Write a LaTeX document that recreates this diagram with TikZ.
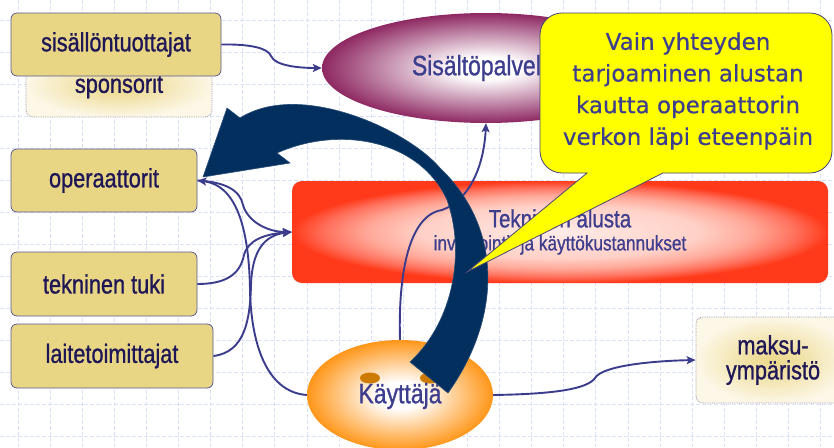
\documentclass[tikz,border=0pt]{standalone}
\usepackage{fontspec}
\usetikzlibrary{arrows.meta,shapes.geometric}

\newfontfamily\narrowsf[FakeStretch=0.82,FakeBold=0.9]{Liberation Sans}
\newfontfamily\roundsf[FakeBold=0.4]{DejaVu Sans}

% palette
\definecolor{tanfill}{RGB}{232,214,132}
\definecolor{tanline}{RGB}{90,90,150}
\definecolor{boxtext}{RGB}{30,22,86}
\definecolor{labeltext}{RGB}{62,62,142}
\definecolor{connc}{RGB}{60,60,140}
\definecolor{gridc}{RGB}{218,226,250}
\definecolor{plumc}{RGB}{142,40,98}
\definecolor{redc}{RGB}{255,58,26}
\definecolor{redhot}{RGB}{255,112,92}
\definecolor{redmid}{RGB}{255,168,152}
\definecolor{redsoft}{RGB}{255,208,198}
\definecolor{redlight}{RGB}{255,236,232}
\definecolor{orangec}{RGB}{255,150,25}
\definecolor{eyec}{RGB}{204,122,0}
\definecolor{creamc}{RGB}{252,247,230}
\definecolor{creamcore}{RGB}{236,216,140}
\definecolor{navyc}{RGB}{3,47,95}
\definecolor{calloutc}{RGB}{255,255,0}
\definecolor{calloutline}{RGB}{70,70,120}
\definecolor{dotline}{RGB}{150,150,172}

% soft centre-to-edge fills (25bp is the edge of the filled path)
\pgfdeclareradialshading{plumglow}{\pgfpoint{0bp}{0bp}}{color(0bp)=(white); color(5bp)=(white); color(25bp)=(plumc); color(50bp)=(plumc)}
\pgfdeclareradialshading{orangeglow}{\pgfpoint{0bp}{0bp}}{color(0bp)=(white); color(6bp)=(white); color(25bp)=(orangec); color(50bp)=(orangec)}
\pgfdeclareradialshading{redglow}{\pgfpoint{0bp}{0bp}}{color(0bp)=(redlight); color(13bp)=(redsoft); color(18bp)=(redmid); color(22bp)=(redhot); color(25bp)=(redc); color(50bp)=(redc)}
\pgfdeclareradialshading{creamglow}{\pgfpoint{0bp}{0bp}}{color(0bp)=(creamcore); color(7bp)=(creamcore!80!creamc); color(25bp)=(creamc); color(50bp)=(creamc)}

\tikzset{
  tanbox/.style={draw=tanline, line width=0.8pt, fill=tanfill, rounded corners=6pt,
    inner sep=0pt, text=boxtext, font=\narrowsf\fontsize{26.5}{26.5}\selectfont},
  palebox/.style={draw=dotline, densely dotted, line width=0.8pt, shading=creamglow,
    rounded corners=7pt, inner sep=0pt, text=boxtext, align=center,
    font=\narrowsf\fontsize{26.5}{25}\selectfont},
  ovalnode/.style={ellipse, inner sep=0pt, text=labeltext,
    font=\narrowsf\fontsize{28}{28}\selectfont},
  eyespot/.style={ellipse, fill=eyec, inner sep=0pt, minimum width=20pt, minimum height=11pt},
  platform/.style={shading=redglow, rounded corners=10pt, inner sep=0pt, text=labeltext,
    align=center, font=\narrowsf\fontsize{21}{23}\selectfont},
  conn/.style={draw=connc, line width=1.9pt, -{Stealth[length=9pt,width=8pt,inset=2pt]}},
  gridline/.style={draw=gridc, line width=0.8pt, dash pattern=on 4pt off 2pt},
  bigarrow/.style={fill=navyc, draw=navyc!85!white, line width=0.6pt},
  callout/.style={fill=calloutc, draw=calloutline, line width=0.8pt}
}

\begin{document}
\begin{tikzpicture}[x=1pt,y=-1pt]
\useasboundingbox (0,0) rectangle (834,447);
\fill[white] (0,0) rectangle (834,447);

% background grid
\foreach \gx in {0,...,25} \draw[gridline] ({18+32.1*\gx},0) -- ({18+32.1*\gx},447);
\foreach \gy in {0,...,13} \draw[gridline] (0,{20.3+32*\gy}) -- (834,{20.3+32*\gy});

% actor boxes
\node[palebox, minimum width=186pt, minimum height=62pt] (spo) at (119,86) {sponsorit};
\node[tanbox, minimum width=210pt, minimum height=63pt] (sis) at (116,44.5) {sisällöntuottajat};
\node[tanbox, minimum width=186pt, minimum height=63pt] (ope) at (104,180.5) {operaattorit};
\node[tanbox, minimum width=186pt, minimum height=64pt] (tuki) at (104,284) {tekninen tuki};
\node[tanbox, minimum width=202pt, minimum height=64pt] (lai) at (112,356) {laitetoimittajat};

% service, platform and user
\node[ovalnode, shading=plumglow, minimum width=328pt, minimum height=110pt] (sal) at (486,68) {Sisältöpalvelut};
\node[platform, minimum width=536pt, minimum height=102pt] (tek) at (560,232)
  {{\fontsize{25}{23}\selectfont Tekninen alusta}\\investointi- ja käyttökustannukset};
\node[ovalnode, shading=orangeglow, minimum width=186pt, minimum height=110pt] (kay) at (400,395) {};
\node[eyespot] (eyeL) at (370,378) {};
\node[eyespot] (eyeR) at (430,378) {};
\node[ovalnode] (kaylabel) at (400,396) {Käyttäjä};
\node[palebox, minimum width=154pt, minimum height=86pt] (mak) at (773,360) {maksu-\\ympäristö};

% connectors
\draw[conn] (sis.east) .. controls (250,44) and (268,48) .. (271,56)
  .. controls (275,66) and (300,68) .. (sal.west);
\draw[conn] (ope.east) .. controls (225,182) and (240,190) .. (243,205)
  .. controls (248,222) and (268,232) .. (tek.west);
\draw[conn] (tuki.east) .. controls (225,284) and (240,275) .. (244,255)
  .. controls (248,240) and (265,234) .. (tek.west);
\draw[conn] (lai.east) .. controls (245,352) and (250,320) .. (251,285)
  .. controls (252,250) and (265,235) .. (tek.west);
\draw[conn] (kay.west) .. controls (265,392) and (251,340) .. (250,290)
  .. controls (249,225) and (235,185) .. (ope.east);
\draw[conn] (kay.north) .. controls (398,270) and (410,215) .. (442,210)
  .. controls (470,200) and (484,165) .. (sal.south);
\draw[conn] (kay.east) .. controls (560,394) and (588,388) .. (595,378)
  .. controls (602,366) and (650,361) .. (mak.west);

% curved block arrow from the user back to the operators
\path[bigarrow] (448,393) .. controls (500,320) and (505,230) .. (440,168)
  .. controls (408,130) and (300,80) .. (240,118)
  -- (227,108) -- (203,177) -- (290,163) -- (277,153)
  .. controls (340,125) and (420,140) .. (447,200)
  .. controls (465,250) and (455,320) .. (410,362) -- cycle;

% speech bubble
\path[callout] (587,173) -- (562,173) arc[start angle=90, end angle=180, radius=22]
  -- (540,35) arc[start angle=180, end angle=270, radius=22]
  -- (810,13) arc[start angle=270, end angle=360, radius=22]
  -- (832,151) arc[start angle=0, end angle=90, radius=22]
  -- (663,173) -- (467,272) -- cycle;
\node[text=labeltext, align=center, inner sep=0pt,
  font=\roundsf\fontsize{23}{31.7}\selectfont] (calltext) at (688,91)
  {Vain yhteyden\\tarjoaminen alustan\\kautta operaattorin\\verkon läpi eteenpäin};
\end{tikzpicture}
\end{document}
